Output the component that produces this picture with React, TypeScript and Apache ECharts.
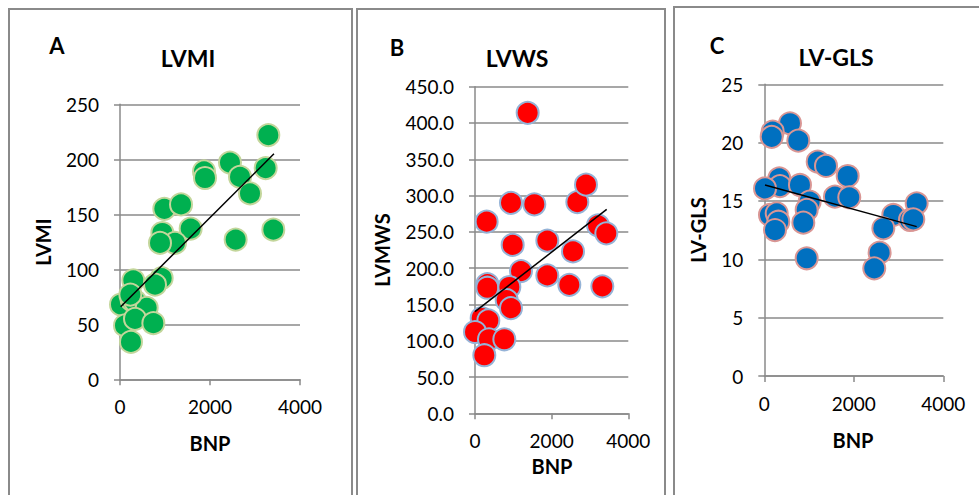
import React, { useEffect, useRef } from "react";
import * as echarts from "echarts";

// Panel A: BNP vs LVMI
const bnpA = [3296, 2444, 2667, 3237, 2889, 1867, 1889, 985, 1356, 1570, 941, 1222, 889, 2570, 3407, 296, 926, 778, 22, 259, 333, 593, 111, 333, 741, 244, 230];
const lvmiA = [222, 197, 184, 192, 169, 189, 183, 155, 159, 137, 133, 124, 124, 127, 136, 90, 92, 86, 68, 72, 71, 65, 49, 55, 51, 34, 77];
const trendA = [[15, 66], [3422, 205]];

// Panel B: BNP vs LVMWS
const bnpB = [1374, 939, 1548, 2670, 2896, 304, 983, 1887, 2557, 3209, 3426, 1200, 1887, 2461, 3322, 322, 322, 896, 826, 939, 174, 348, 0, 365, 765, 243];
const lvmwsB = [414, 290, 288, 291, 315, 264, 232, 238, 223, 259, 248, 196, 190, 177, 175, 178, 173, 174, 156, 145, 131, 128, 112, 102, 102, 80];
const trendB = [[0, 140], [3436, 281]];

// Panel C: BNP vs LV-GLS
const bnpC = [574, 188, 165, 760, 1193, 1379, 1863, 335, 350, 797, 16, 1579, 1899, 1013, 947, 3405, 2883, 3256, 3330, 127, 277, 313, 239, 872, 2660, 947, 2577, 2457];
const glsC = [21.66, 20.94, 20.5, 20.17, 18.37, 18.0, 17.14, 16.94, 16.28, 16.37, 16.08, 15.37, 15.31, 14.94, 14.23, 14.8, 13.8, 13.37, 13.43, 13.8, 13.94, 13.22, 12.51, 13.14, 12.66, 10.09, 10.57, 9.23];
const trendC = [[16, 16.37], [3405, 12.8]];

const xTicks = { min: 0, max: 4000, interval: 2000 };
const yA = { min: 0, max: 250, interval: 50 };
const yB = { min: 0, max: 450, interval: 50 };
const yC = { min: 0, max: 25, interval: 5 };

const FONT = "Lato";
const GRAY = "#8a8a8a";

export default function App() {
  const ref = useRef<HTMLDivElement>(null);
  useEffect(() => {
    if (!ref.current) return;
    const chart = echarts.init(ref.current, undefined, { renderer: "svg" });

    const grids = [
      { left: 120, top: 104.3, width: 180, height: 275 },
      { left: 475, top: 86.7, width: 153.3, height: 326.6 },
      { left: 764.3, top: 84.3, width: 179, height: 291.7 },
    ];
    const yRanges = [yA, yB, yC];

    const xAxis = grids.map((_, i) => ({
      type: "value",
      gridIndex: i,
      ...xTicks,
      axisLine: { show: true, lineStyle: { color: GRAY, width: 1.5 } },
      axisTick: { show: true, length: 6, lineStyle: { color: GRAY, width: 1.5 } },
      splitLine: { show: false },
      axisLabel: {
        color: "#000",
        fontFamily: FONT,
        fontSize: 19,
        margin: 18,
        formatter: (v: number) => String(v),
      },
    }));
    const yAxis = grids.map((_, i) => ({
      type: "value",
      gridIndex: i,
      ...yRanges[i],
      axisLine: { show: true, lineStyle: { color: GRAY, width: 1.5 } },
      axisTick: { show: true, length: 6, inside: false, lineStyle: { color: GRAY, width: 1.5 } },
      splitLine: { show: true, lineStyle: { color: GRAY, width: 1.5 } },
      axisLabel: {
        color: "#000",
        fontFamily: FONT,
        fontSize: 19,
        margin: 21,
        formatter: i === 1 ? (v: number) => v.toFixed(1) : (v: number) => String(v),
      },
    }));

    const scatter = (i: number, xs: number[], ys: number[], fill: string, edge: string) => ({
      type: "scatter",
      xAxisIndex: i,
      yAxisIndex: i,
      data: xs.map((x, k) => [x, ys[k]]),
      symbolSize: 22,
      itemStyle: { color: fill, borderColor: edge, borderWidth: 2, opacity: 1 },
      z: 2,
    });
    const trend = (i: number, d: number[][]) => ({
      type: "line",
      xAxisIndex: i,
      yAxisIndex: i,
      data: d,
      symbol: "none",
      lineStyle: { color: "#000", width: 1.5 },
      z: 5,
    });

    const txt = (x: number, y: number, text: string, size: number, rot = 0) => ({
      type: "text",
      x,
      y,
      rotation: rot,
      style: {
        text,
        fontFamily: FONT,
        fontWeight: "bold",
        fontSize: size,
        fill: "#000",
        align: "center",
        verticalAlign: "middle",
      },
      z: 10,
    });

    chart.setOption({
      animation: false,
      grid: grids,
      xAxis,
      yAxis,
      series: [
        scatter(0, bnpA, lvmiA, "#00B050", "#C3D69B"),
        trend(0, trendA),
        scatter(1, bnpB, lvmwsB, "#FF0000", "#95B3D7"),
        trend(1, trendB),
        scatter(2, bnpC, glsC, "#0070C0", "#D99694"),
        trend(2, trendC),
      ],
      graphic: [
        { type: "rect", shape: { x: 9, y: 9, width: 343, height: 500 }, style: { fill: "none", stroke: GRAY, lineWidth: 2 }, z: 0 },
        { type: "rect", shape: { x: 357, y: 9, width: 308, height: 500 }, style: { fill: "none", stroke: GRAY, lineWidth: 2 }, z: 0 },
        { type: "rect", shape: { x: 674, y: 7, width: 320, height: 500 }, style: { fill: "none", stroke: GRAY, lineWidth: 2 }, z: 0 },
        txt(57, 45, "A", 22),
        txt(188, 58, "LVMI", 23),
        txt(43, 242, "LVMI", 20, Math.PI / 2),
        txt(210, 443, "BNP", 20),
        txt(397, 47, "B", 22),
        txt(517, 58, "LVWS", 23),
        txt(382, 250, "LVMWS", 20, Math.PI / 2),
        txt(552, 466, "BNP", 20),
        txt(717, 45, "C", 22),
        txt(836, 57, "LV-GLS", 23),
        txt(698, 230, "LV-GLS", 20, Math.PI / 2),
        txt(853, 440, "BNP", 20),
      ],
    });
    return () => chart.dispose();
  }, []);
  return (
    <div
      ref={ref}
      style={{ position: "fixed", left: 0, top: 0, width: 979, height: 495, background: "#fff" }}
    />
  );
}
